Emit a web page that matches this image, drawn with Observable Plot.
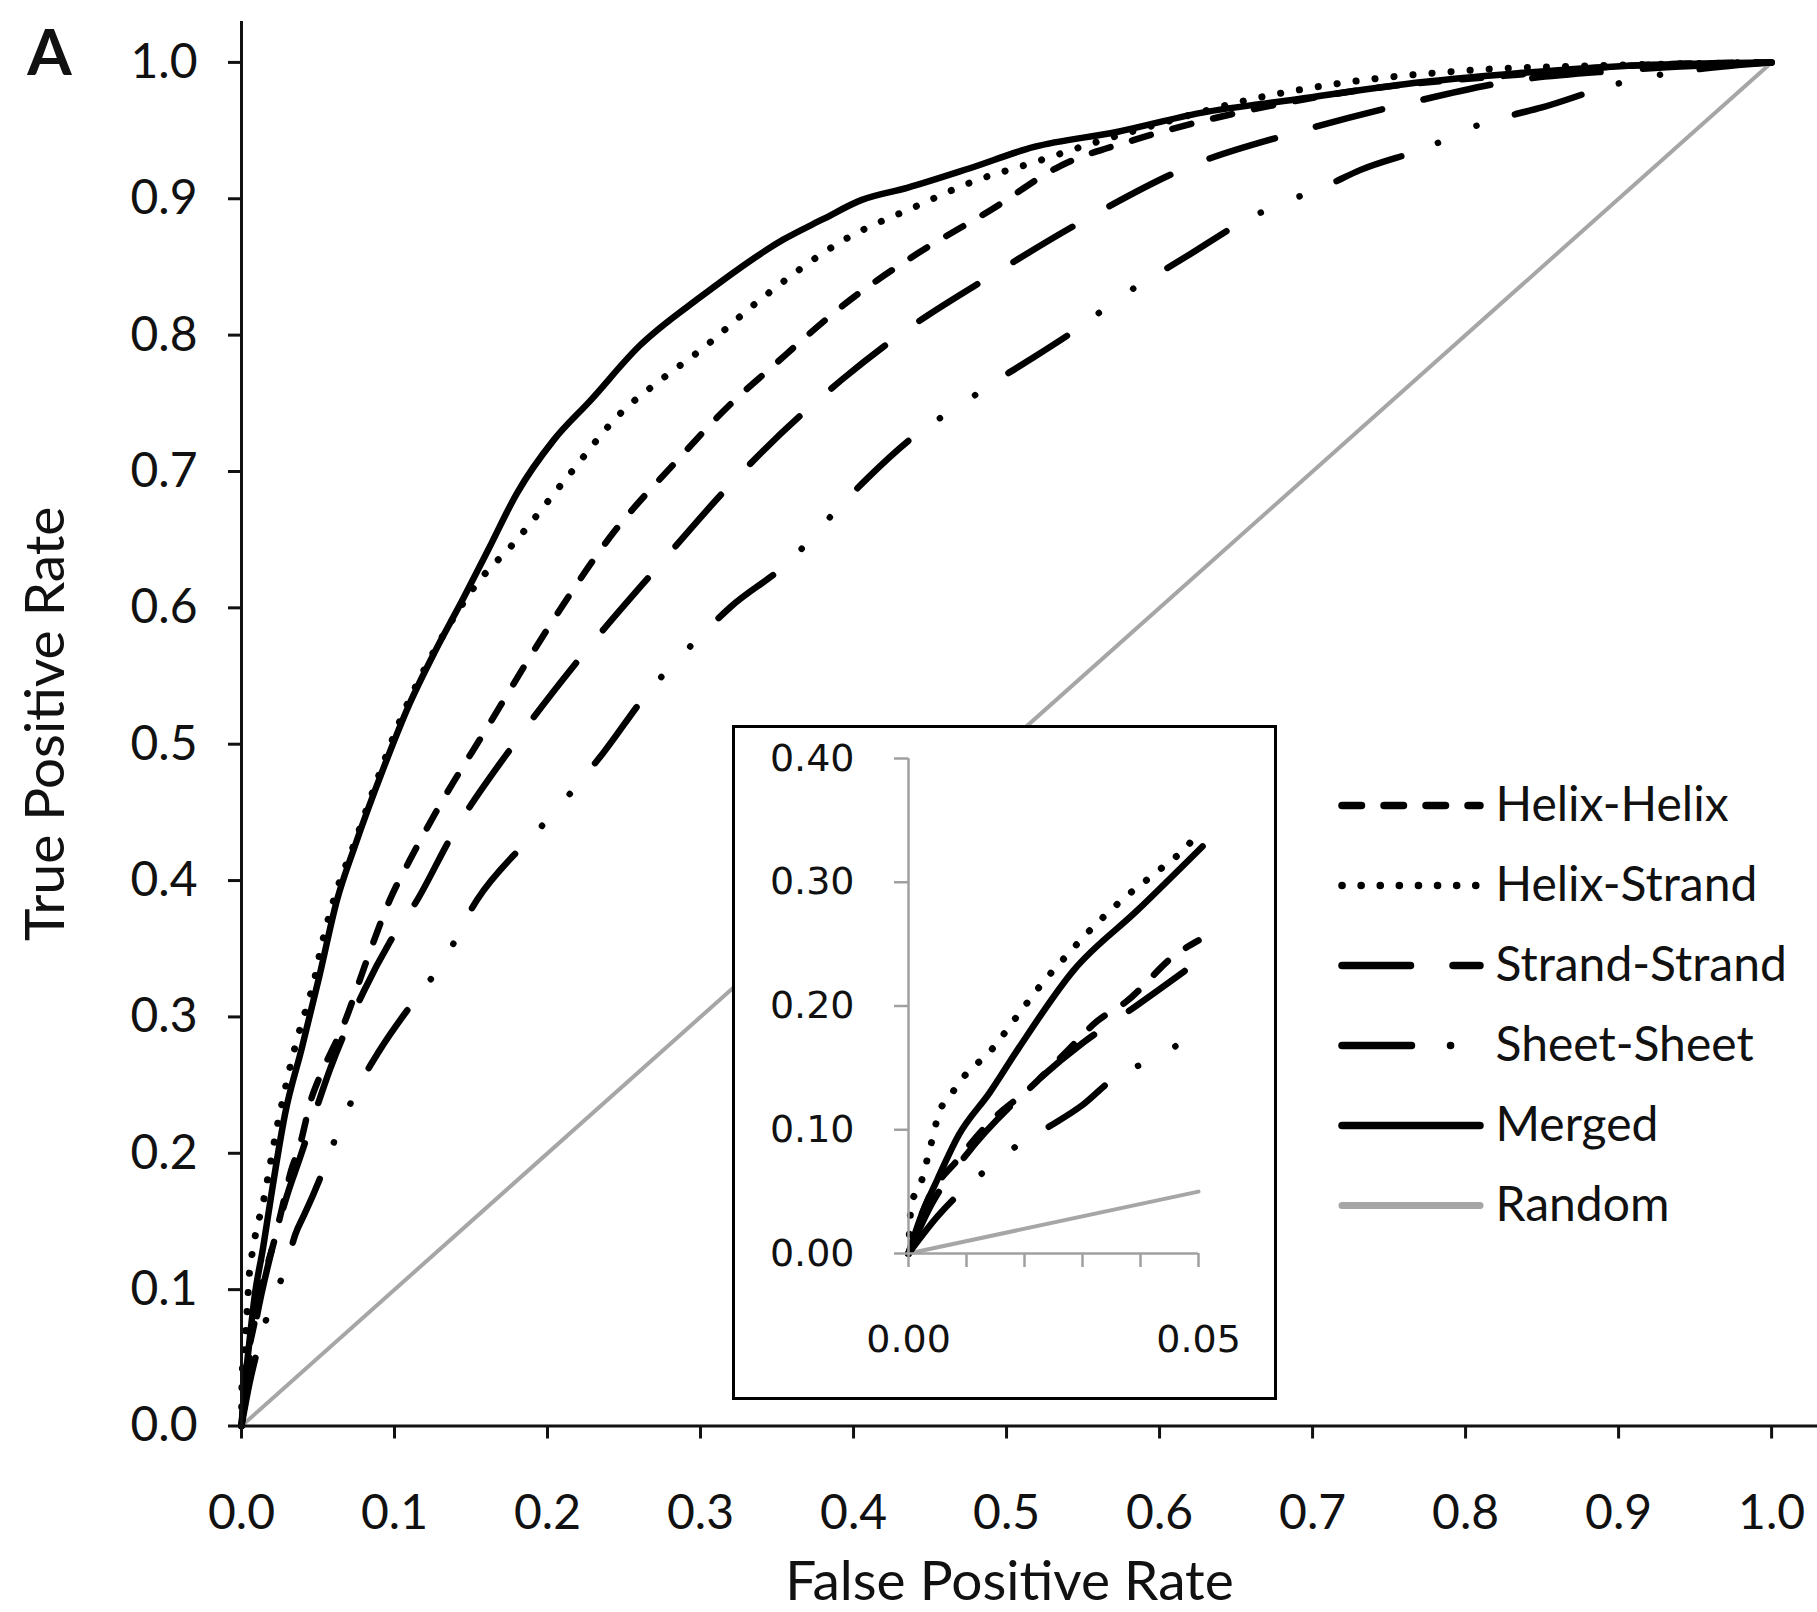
<!DOCTYPE html>
<html><head><meta charset="utf-8">
<script src="https://cdn.jsdelivr.net/npm/d3@7"></script>
<script src="https://cdn.jsdelivr.net/npm/@observablehq/plot@0.6"></script>
<style>
body{margin:0;background:#fff;}
#wrap{position:relative;width:1817px;height:1612px;overflow:hidden;background:#fff;}
#inset{position:absolute;left:732px;top:725px;width:545px;height:675px;background:#fff;border:3px solid #000;box-sizing:border-box;}
#inset svg{position:absolute;left:-3px;top:-3px;}
#legend{position:absolute;left:1330px;top:760px;}
svg{max-width:none !important;}
</style></head><body><div id="wrap"><div id="main"></div><div id="inset"></div><div id="legend"></div></div>
<script>
// ---------- data ----------
const seriesNames = ["Helix-Helix", "Helix-Strand", "Strand-Strand", "Sheet-Sheet", "Merged", "Random"];

const fprHelixHelix = [0, 0.003, 0.0087, 0.0142, 0.021, 0.027, 0.0326, 0.0374, 0.0462, 0.05, 0.067, 0.083, 0.097, 0.11, 0.13, 0.161, 0.198, 0.243, 0.283, 0.322, 0.344, 0.398, 0.442, 0.49, 0.535, 0.583, 0.647, 0.727, 0.834, 0.914, 1.0];
const tprHelixHelix = [0, 0.04, 0.077, 0.107, 0.134, 0.162, 0.188, 0.203, 0.242, 0.253, 0.295, 0.345, 0.386, 0.415, 0.456, 0.513, 0.581, 0.655, 0.706, 0.752, 0.774, 0.826, 0.86, 0.892, 0.924, 0.943, 0.962, 0.979, 0.991, 0.998, 1.0];

const fprHelixStrand = [0, 0.0005, 0.002, 0.0036, 0.0053, 0.0074, 0.0094, 0.0142, 0.0186, 0.023, 0.0275, 0.0323, 0.0374, 0.043, 0.048, 0.0503, 0.06, 0.074, 0.09, 0.105, 0.12, 0.135, 0.152, 0.18, 0.213, 0.248, 0.275, 0.3, 0.339, 0.394, 0.442, 0.479, 0.516, 0.56, 0.6, 0.656, 0.72, 0.8, 0.9, 1.0];
const tprHelixStrand = [0, 0.04, 0.055, 0.083, 0.114, 0.129, 0.142, 0.164, 0.191, 0.218, 0.242, 0.266, 0.288, 0.309, 0.329, 0.342, 0.385, 0.428, 0.478, 0.521, 0.556, 0.586, 0.615, 0.65, 0.696, 0.743, 0.768, 0.789, 0.826, 0.87, 0.895, 0.913, 0.926, 0.942, 0.955, 0.972, 0.985, 0.994, 0.998, 1.0];

const fprStrandStrand = [0, 0.004, 0.01, 0.02, 0.03, 0.038, 0.049, 0.058, 0.08, 0.097, 0.115, 0.137, 0.178, 0.224, 0.272, 0.32, 0.339, 0.392, 0.431, 0.492, 0.555, 0.62, 0.69, 0.762, 0.834, 0.9, 1.0];
const tprStrandStrand = [0, 0.04, 0.08, 0.13, 0.17, 0.196, 0.233, 0.262, 0.319, 0.355, 0.386, 0.432, 0.5, 0.567, 0.63, 0.691, 0.713, 0.767, 0.801, 0.845, 0.887, 0.924, 0.949, 0.97, 0.987, 0.994, 1.0];

const fprSheetSheet = [0, 0.005, 0.0135, 0.019, 0.0244, 0.03, 0.035, 0.041, 0.047, 0.05, 0.064, 0.077, 0.09, 0.115, 0.131, 0.154, 0.185, 0.203, 0.22, 0.236, 0.265, 0.297, 0.32, 0.357, 0.39, 0.409, 0.448, 0.468, 0.491, 0.511, 0.553, 0.573, 0.596, 0.618, 0.659, 0.683, 0.708, 0.731, 0.778, 0.801, 0.826, 0.85, 0.898, 1.0];
const tprSheetSheet = [0, 0.03, 0.068, 0.088, 0.103, 0.12, 0.14, 0.155, 0.17, 0.178, 0.218, 0.25, 0.275, 0.315, 0.339, 0.386, 0.427, 0.448, 0.471, 0.493, 0.537, 0.576, 0.601, 0.633, 0.673, 0.695, 0.733, 0.747, 0.765, 0.779, 0.81, 0.827, 0.843, 0.858, 0.886, 0.898, 0.909, 0.921, 0.939, 0.951, 0.96, 0.967, 0.984, 1.0];

const fprMerged = [0, 0.002, 0.005, 0.0087, 0.014, 0.019, 0.0285, 0.0394, 0.0507, 0.0625, 0.074, 0.093, 0.11, 0.126, 0.145, 0.161, 0.18, 0.204, 0.228, 0.26, 0.3, 0.354, 0.38, 0.405, 0.435, 0.475, 0.518, 0.572, 0.627, 0.69, 0.76, 0.834, 0.914, 1.0];
const tprMerged = [0, 0.028, 0.06, 0.096, 0.13, 0.166, 0.229, 0.277, 0.329, 0.386, 0.425, 0.483, 0.53, 0.567, 0.607, 0.642, 0.684, 0.723, 0.752, 0.792, 0.828, 0.87, 0.885, 0.899, 0.908, 0.922, 0.938, 0.949, 0.963, 0.973, 0.984, 0.992, 0.998, 1.0];

const fprRandom = [0, 1];
const tprRandom = [0, 1];

const xTicks = [0, 0.1, 0.2, 0.3, 0.4, 0.5, 0.6, 0.7, 0.8, 0.9, 1.0];
const yTicks = [0, 0.1, 0.2, 0.3, 0.4, 0.5, 0.6, 0.7, 0.8, 0.9, 1.0];
const insetXTicks = [0, 0.01, 0.02, 0.03, 0.04, 0.05];
const insetXLabeled = [0, 0.05];
const insetYTicks = [0, 0.1, 0.2, 0.3, 0.4];

const xTitle = "False Positive Rate";
const yTitle = "True Positive Rate";
const panelLabel = "A";

// ---------- build table ----------
const sources = {
  "Helix-Helix": [fprHelixHelix, tprHelixHelix],
  "Helix-Strand": [fprHelixStrand, tprHelixStrand],
  "Strand-Strand": [fprStrandStrand, tprStrandStrand],
  "Sheet-Sheet": [fprSheetSheet, tprSheetSheet],
  "Merged": [fprMerged, tprMerged],
  "Random": [fprRandom, tprRandom]
};
const rows = seriesNames.flatMap(name => {
  const [xs, ys] = sources[name];
  return xs.map((x, i) => ({series: name, fpr: x, tpr: ys[i]}));
});
const insetRows = rows.filter(d => d.series !== "Random" && d.fpr <= 0.0508)
  .concat([{series: "Random", fpr: 0, tpr: 0}, {series: "Random", fpr: 0.05, tpr: 0.05}]);

// ---------- styles ----------
const styles = {
  "Helix-Helix": {stroke: "#000", strokeWidth: 6.5, strokeDasharray: "19.5,22.5"},
  "Helix-Strand": {stroke: "#000", strokeWidth: 7, strokeDasharray: "0.1,19"},
  "Strand-Strand": {stroke: "#000", strokeWidth: 6.5, strokeDasharray: "68.5,42.5"},
  "Sheet-Sheet": {stroke: "#000", strokeWidth: 6.5, strokeDasharray: "69.5,39,0.1,42,0.1,40"},
  "Merged": {stroke: "#000", strokeWidth: 6.5, strokeDasharray: null},
  "Random": {stroke: "#a6a6a6", strokeWidth: 4, strokeDasharray: null}
};
const drawOrder = ["Random", "Sheet-Sheet", "Strand-Strand", "Helix-Helix", "Helix-Strand", "Merged"];
const fmt1 = d3.format(".1f");
const fmt2 = d3.format(".2f");

function lineMarks(data) {
  return drawOrder.map(name => Plot.line(data.filter(d => d.series === name), {
    x: "fpr", y: "tpr",
    stroke: styles[name].stroke,
    strokeWidth: styles[name].strokeWidth,
    strokeDasharray: styles[name].strokeDasharray || undefined,
    strokeLinecap: "round", strokeLinejoin: "round",
    curve: name === "Random" ? "linear" : "monotone-x"
  }));
}

// ---------- main ----------
const main = Plot.plot({
  width: 1817, height: 1612,
  marginLeft: 241, marginRight: 0, marginTop: 21, marginBottom: 186.5,
  x: {domain: [0, 1.03], label: null},
  y: {domain: [0, 1.03], label: null},
  style: {fontFamily: "Lato, sans-serif", fontSize: "48px", color: "#111", background: "white", overflow: "visible"},
  marks: [
    ...lineMarks(rows),
    Plot.ruleX([0], {strokeWidth: 3, stroke: "#111"}),
    Plot.ruleY([0], {strokeWidth: 3, stroke: "#111"}),
    Plot.axisX({ticks: xTicks, tickFormat: fmt1, tickSize: 13, tickPadding: 56, strokeWidth: 3, stroke: "#111", label: null}),
    Plot.axisY({ticks: yTicks, tickFormat: fmt1, tickSize: 13, tickPadding: 31, strokeWidth: 3, stroke: "#111", label: null}),
    Plot.text([xTitle], {frameAnchor: "bottom", dx: -20, dy: 156, lineAnchor: "middle", textAnchor: "middle", fontSize: 55}),
    Plot.text([yTitle], {frameAnchor: "left", rotate: -90, dx: -195, lineAnchor: "middle", textAnchor: "middle", fontSize: 55}),
    Plot.text([panelLabel], {frameAnchor: "top-left", dx: -192, dy: 33, lineAnchor: "middle", textAnchor: "middle", fontSize: 64, fontWeight: "bold"})
  ]
});
document.getElementById("main").appendChild(main);

// ---------- inset ----------
const inset = Plot.plot({
  width: 545, height: 675,
  marginLeft: 176, marginRight: 79, marginTop: 33, marginBottom: 147,
  x: {domain: [0, 0.05], label: null},
  y: {domain: [0, 0.4], label: null},
  style: {fontFamily: "DejaVu Sans, sans-serif", fontSize: "38px", color: "#111", background: "transparent", overflow: "visible"},
  marks: [
    ...lineMarks(insetRows),
    Plot.ruleX([0], {stroke: "#a0a0a0", strokeWidth: 2.5}),
    Plot.ruleY([0], {stroke: "#a0a0a0", strokeWidth: 2.5}),
    Plot.axisX({ticks: insetXTicks, tickFormat: d => insetXLabeled.some(v => Math.abs(v - d) < 1e-9) ? fmt2(d) : "", tickSize: 14, tickPadding: 58, stroke: "#a0a0a0", strokeWidth: 2.5, label: null}),
    Plot.axisY({ticks: insetYTicks, tickFormat: fmt2, tickSize: 14, tickPadding: 40, stroke: "#a0a0a0", strokeWidth: 2.5, label: null})
  ]
});
document.getElementById("inset").appendChild(inset);

// ---------- legend ----------
const legend = Plot.plot({
  width: 487, height: 490,
  marginLeft: 12, marginRight: 337, marginTop: 43, marginBottom: 43,
  x: {domain: [0, 1], axis: null},
  y: {type: "point", domain: seriesNames, padding: 0, axis: null},
  style: {fontFamily: "Lato, sans-serif", fontSize: "48px", color: "#111", background: "transparent", overflow: "visible"},
  marks: [
    ...seriesNames.map(name => Plot.ruleY([name], {
      x1: 0, x2: 1,
      stroke: styles[name].stroke,
      strokeWidth: name === "Random" ? 7 : 7.5,
      strokeDasharray: styles[name].strokeDasharray || undefined,
      strokeLinecap: "round"
    })),
    Plot.text(seriesNames, {x: 1, y: d => d, dx: 15, textAnchor: "start", lineAnchor: "middle"})
  ]
});
document.getElementById("legend").appendChild(legend);
</script></body></html>
